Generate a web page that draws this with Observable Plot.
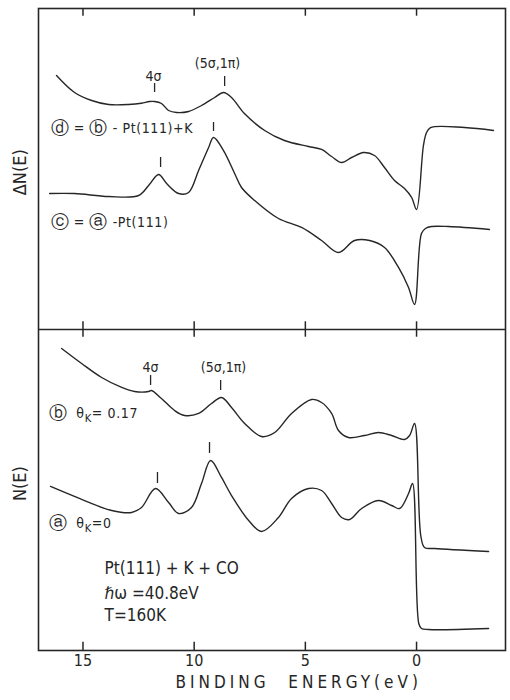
<!DOCTYPE html>
<html><head><meta charset="utf-8">
<script src="https://cdn.jsdelivr.net/npm/d3@7"></script>
<script src="https://cdn.jsdelivr.net/npm/@observablehq/plot@0.6"></script>
<style>
html,body{margin:0;padding:0;background:#fff;}
</style></head><body><div id="chart"></div>
<script>
// ---- curve (d) = (b) - Pt(111)+K  (upper panel, ΔN(E))
const dE = [16.19,15.38,14.61,13.85,12.95,12.37,12.01,11.78,11.47,11.15,10.79,10.25,9.67,9.08,8.68,8.32,7.74,6.83,5.94,4.86,4.27,3.82,3.37,2.92,2.38,1.89,1.44,0.99,0.54,0.22,0.00,-0.31,-0.45,-0.63,-2.16,-3.46];
const dN = [89.56,86.92,85.67,85.05,85.05,85.25,85.51,85.51,85.20,84.11,83.80,83.96,84.89,86.14,86.92,86.14,83.64,81.00,79.44,78.50,78.04,76.95,76.01,76.79,77.57,77.10,75.23,73.21,71.96,70.56,68.70,78.66,80.69,81.46,81.46,81.00];
// ---- curve (c) = (a) - Pt(111)
const cE = [16.50,15.38,13.85,12.50,12.05,11.60,11.24,10.70,10.25,9.80,9.35,9.13,8.68,8.18,7.87,7.28,6.21,5.17,4.27,3.51,2.79,2.11,1.44,0.81,0.36,0.09,-0.22,-0.40,-0.67,-1.44,-3.28];
const cN = [71.18,71.18,70.72,70.87,72.43,74.14,72.74,71.18,71.34,74.77,78.35,79.91,77.88,74.30,72.12,70.09,67.29,65.89,63.86,61.99,63.86,63.86,62.77,59.66,56.54,53.89,64.95,65.73,66.04,66.04,65.58];
// ---- curve (b) θK = 0.17  (lower panel, N(E))
const bE = [15.96,15.06,14.16,13.26,12.68,12.05,11.92,11.47,10.88,10.43,9.80,9.22,8.77,8.32,7.73,6.97,6.38,5.62,4.72,4.27,3.82,3.51,3.06,2.34,1.71,1.12,0.54,0.31,0.09,-0.19,-0.36,-0.81,-3.24];
const bN = [47.04,44.70,42.52,40.97,40.34,40.34,40.50,39.25,37.38,36.60,36.92,38.47,39.41,37.85,35.36,33.33,33.96,36.92,39.10,38.63,36.92,34.27,33.18,33.49,33.96,33.49,32.87,33.49,35.36,17.91,16.04,15.89,15.42];
// ---- curve (a) θK = 0
const aE = [16.46,14.93,13.71,12.81,12.37,11.74,11.15,10.70,10.12,9.67,9.26,8.77,8.32,7.55,6.97,6.21,5.62,4.86,4.27,3.82,3.37,3.01,2.47,1.71,1.12,0.76,0.36,0.18,-0.10,-0.22,-0.54,-3.24];
const aN = [25.55,23.36,21.81,21.50,22.27,25.23,23.05,21.34,22.27,26.01,29.60,26.95,24.14,20.25,18.54,20.72,23.68,25.23,24.92,22.90,20.72,20.40,22.12,23.36,22.59,22.12,24.45,26.01,4.20,3.43,3.27,3.43];

// peak markers (energy, lower and upper end of the short bar)
const markE  = [11.78, 8.63, 11.51, 9.13, 11.96, 8.81, 11.65, 9.31];
const markLo = [86.92, 87.85, 75.23, 80.84, 41.28, 40.50, 26.01, 30.69];
const markHi = [88.32, 89.41, 76.79, 82.24, 42.83, 42.06, 27.73, 32.40];

// x tick values
const xTicks = [15, 10, 5, 0];

// annotations
const peakLabels = ["4σ", "(5σ,1π)", "4σ", "(5σ,1π)"];
const peakLabE   = [11.83, 8.95, 11.96, 8.68];
const peakLabN   = [89.41, 91.43, 44.08, 44.08];

const curveLabels = ["ⓓ = ⓑ - Pt(111)+K", "ⓒ = ⓐ -Pt(111)", "ⓑ  θK= 0.17", "ⓐ  θK=0"];
const curveLabE   = [16.46, 16.46, 16.55, 16.55];
const curveLabN   = [81.31, 66.67, 36.92, 19.78];

const infoLines = ["Pt(111) + K + CO", "ℏω =40.8eV", "T=160K"];
const infoE = [14.03, 14.03, 14.03];
const infoN = [12.77, 8.88, 5.45];

const panelLabels = ["ΔN(E)", "N(E)"];
const panelLabN = [74.5, 26];

const FONT = '"DejaVu Sans Condensed","Liberation Sans Narrow","DejaVu Sans",sans-serif';
const INK = "#262626";

const rows = (E, N, id) => E.map((e, i) => ({E: e, N: N[i], id}));
const curves = [...rows(dE, dN, "d"), ...rows(cE, cN, "c"), ...rows(bE, bN, "b"), ...rows(aE, aN, "a")];
const marks = markE.map((e, i) => ({E: e, lo: markLo[i], hi: markHi[i]}));

const svg = Plot.plot({
  width: 510,
  height: 700,
  marginLeft: 38,
  marginRight: 5,
  marginTop: 8,
  marginBottom: 50,
  x: {domain: [17, -4]},
  y: {domain: [0, 100], axis: null},
  style: {background: "#fff", color: INK},
  marks: [
    Plot.frame({stroke: INK, strokeWidth: 1.6}),
    Plot.ruleY([50], {stroke: INK, strokeWidth: 1.6}),
    // inward ticks: top, divider (crossing), bottom
    Plot.ruleX(xTicks, {x: d => d, y1: 100, y2: 98.8, stroke: INK, strokeWidth: 1.5}),
    Plot.ruleX(xTicks, {x: d => d, y1: 48.8, y2: 51.2, stroke: INK, strokeWidth: 1.5}),
    Plot.ruleX(xTicks, {x: d => d, y1: 0, y2: 1.3, stroke: INK, strokeWidth: 1.5}),
    Plot.axisX(xTicks, {anchor: "bottom", tickSize: 0, tickPadding: 4, fontSize: 16, fontFamily: FONT, label: null, tickFormat: d => String(d)}),
    Plot.text(["BINDING ENERGY(eV)"], {x: () => 5.3, frameAnchor: "bottom", dy: 37, fontSize: 17, fontFamily: FONT, fill: INK}),
    Plot.line(curves, {x: "E", y: "N", z: "id", curve: "catmull-rom", stroke: INK, strokeWidth: 1.4}),
    Plot.ruleX(marks, {x: "E", y1: "lo", y2: "hi", stroke: INK, strokeWidth: 1.3}),
    Plot.text(peakLabels, {x: (d, i) => peakLabE[i], y: (d, i) => peakLabN[i], text: d => d, fontSize: 14, fontFamily: FONT, fill: INK}),
    Plot.text(curveLabels, {x: (d, i) => curveLabE[i], y: (d, i) => curveLabN[i], text: d => d, textAnchor: "start", fontSize: 14, fontFamily: FONT, fill: INK}),
    Plot.text(infoLines, {x: (d, i) => infoE[i], y: (d, i) => infoN[i], text: d => d, textAnchor: "start", fontSize: 17, fontFamily: FONT, fill: INK}),
    Plot.text(panelLabels, {x: () => 17.8, y: (d, i) => panelLabN[i], text: d => d, rotate: -90, fontSize: 18, fontFamily: FONT, fill: INK})
  ]
});

// typographic touches: subscript K in θK, larger circled letters, spaced axis title
const circled = /[\u24D0-\u24E9]/;
d3.select(svg).selectAll("text").each(function () {
  const t = this.textContent;
  const s = d3.select(this);
  if (t.startsWith("BINDING")) {
    s.attr("letter-spacing", "4px").attr("word-spacing", "10px");
    return;
  }
  if (!t.includes("θK") && !circled.test(t)) return;
  s.attr("letter-spacing", "0.6px");
  s.text("");
  const parts = t.split(/([\u24D0-\u24E9]|θK)/).filter(p => p !== "");
  let pending = 0; // em shift to apply to the next tspan that has characters
  const add = (txt, shift, size) => {
    const sp = s.append("tspan").text(txt);
    const dy = pending + shift;
    if (dy) sp.attr("dy", dy + "em");
    if (size) sp.attr("font-size", size);
    pending = -shift;
    return sp;
  };
  for (const p of parts) {
    if (circled.test(p)) {
      add(p, 0.08, "1.3em");
      // dy for the 1.3em tspan is relative to its own em; compensate in parent em
      pending = -0.08 * 1.3;
    } else if (p === "θK") {
      add("θ", 0);
      add("K", 0.3 / 0.8, "0.8em");
      pending = -0.3;
    } else {
      add(p, 0);
    }
  }
});

document.getElementById("chart").appendChild(svg);
</script>
</body></html>
